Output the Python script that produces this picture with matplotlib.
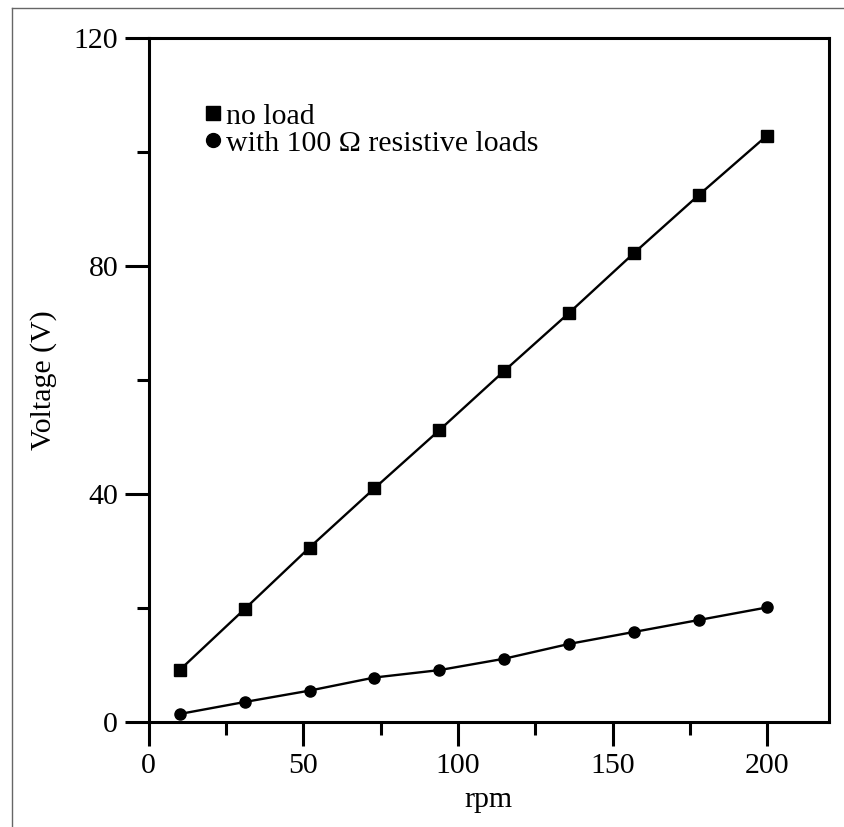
import matplotlib
matplotlib.use("Agg")
import matplotlib.pyplot as plt
from matplotlib.lines import Line2D
from matplotlib.ticker import MultipleLocator

# Valores
rpm = [10, 31, 52, 73, 94, 115, 136, 157, 178, 200]
sin_carga = [9.1, 19.8, 30.6, 41.0, 51.2, 61.6, 71.8, 82.3, 92.5, 102.9]
con_carga = [1.4, 3.5, 5.5, 7.8, 9.1, 11.1, 13.7, 15.8, 17.9, 20.1]
etiquetas = ["no load", "with 100 \u03a9 resistive loads"]

plt.rcParams['font.family'] = ['Liberation Serif', 'DejaVu Serif']
plt.rcParams['font.size'] = 21.5

fig = plt.figure(figsize=(8.45, 8.27), dpi=100)
ax = fig.add_axes([0.176, 0.127, 0.805, 0.827])

ax.plot(rpm, sin_carga, color='black', lw=1.7, marker='s', ms=8.5)
ax.plot(rpm, con_carga, color='black', lw=1.7, marker='o', ms=8)

ax.set_xlim(0, 220)
ax.set_ylim(0, 120)
ax.xaxis.set_major_locator(MultipleLocator(50))
ax.xaxis.set_minor_locator(MultipleLocator(25))
ax.yaxis.set_major_locator(MultipleLocator(40))
ax.yaxis.set_minor_locator(MultipleLocator(20))

for s in ax.spines.values():
    s.set_linewidth(2.2)
ax.tick_params(which='major', direction='out', length=17, width=2.2, pad=5)
ax.tick_params(which='minor', direction='out', length=9, width=2.2)

ax.set_xlabel("rpm", labelpad=6)
ax.set_ylabel("Voltage (V)", labelpad=12)

# Leyenda solo con marcadores
handles = [Line2D([], [], color='black', marker='s', ls='none', ms=10),
           Line2D([], [], color='black', marker='o', ls='none', ms=10)]
ax.legend(handles, etiquetas, loc='upper left', bbox_to_anchor=(0.083, 0.905),
          frameon=False, handlelength=0.5, handletextpad=0.2,
          labelspacing=0.0, borderaxespad=0, borderpad=0)

# Borde gris de la figura (solo izquierda y arriba)
fig.add_artist(Line2D([12 / 845, 12 / 845], [0, 1 - 8 / 827], color='#666666', lw=1))
fig.add_artist(Line2D([12 / 845, 1], [1 - 8 / 827, 1 - 8 / 827], color='#666666', lw=1))

fig.savefig("out.png", dpi=100)
